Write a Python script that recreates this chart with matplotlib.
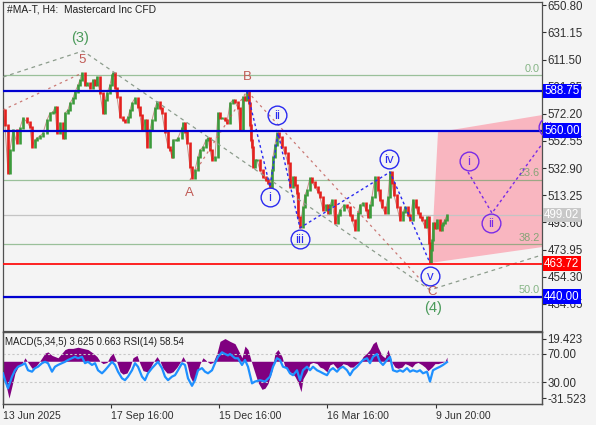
import matplotlib
matplotlib.use("Agg")
import matplotlib.pyplot as plt
from matplotlib.patches import Polygon

plt.rcParams['font.family'] = ['Liberation Sans', 'DejaVu Sans']

# ===================== data =====================
title = "#MA-T, H4:  Mastercard Inc CFD"
ind_title = "MACD(5,34,5) 3.625 0.663 RSI(14) 58.54"

# bar position (chart x) and close price
bar_x = [3, 5, 8, 10, 13, 17, 20, 23, 27, 30,
         32, 35, 37, 40, 43, 47, 50, 53, 55, 57,
         60, 63, 65, 68, 70, 73, 75, 78, 80, 82,
         85, 87, 90, 93, 95, 97, 100, 103, 105, 107,
         110, 112, 113, 115, 117, 120, 123, 125, 128, 130,
         132, 135, 138, 140, 142, 145, 147, 150, 152, 155,
         157, 160, 162, 165, 168, 170, 172, 173, 176, 178,
         182, 183, 185, 187, 190, 192, 195, 198, 200, 203,
         206, 208, 210, 212, 215, 218, 220, 222, 225, 227,
         230, 233, 235, 238, 240, 243, 245, 247, 249, 250,
         251, 252, 253, 255, 257, 260, 263, 266, 268, 270,
         272, 273, 275, 277, 279, 282, 285, 288, 290, 293,
         295, 297, 298, 300, 303, 305, 307, 310, 312, 315,
         318, 320, 323, 326, 328, 330, 332, 335, 338, 340,
         344, 347, 350, 352, 355, 358, 360, 363, 366, 368,
         370, 372, 375, 378, 380, 382, 385, 388, 390, 392,
         394, 397, 400, 403, 405, 408, 410, 413, 416, 418,
         420, 422, 425, 427, 429, 430, 431, 432, 433, 435,
         437, 440, 442, 443, 445, 447]
close = [575.0, 564.1, 529.4, 546.0, 560.5, 551.1, 562.0, 569.2, 566.3, 562.7,
         548.2, 553.3, 554.7, 556.2, 558.3, 567.7, 572.8, 573.5, 577.1, 558.3,
         565.6, 554.7, 572.8, 575.0, 580.0, 583.6, 588.0, 593.0, 596.7, 601.7,
         593.0, 594.5, 590.9, 596.7, 593.0, 598.8, 587.2, 572.8, 582.2, 587.2,
         593.0, 600.3, 601.7, 590.9, 584.4, 569.9, 567.7, 566.3, 569.9, 575.0,
         580.0, 583.6, 577.1, 571.3, 560.5, 567.7, 548.2, 560.5, 567.7, 576.4,
         580.7, 576.4, 572.8, 559.0, 548.2, 546.0, 541.0, 553.3, 553.3, 554.7,
         562.0, 565.6, 559.0, 551.1, 533.7, 525.8, 531.6, 541.0, 546.0, 548.2,
         553.3, 554.7, 546.0, 538.8, 541.0, 572.8, 569.2, 569.2, 567.7, 565.6,
         580.0, 582.2, 580.7, 576.4, 560.5, 584.4, 582.2, 588.7, 580.0, 564.1,
         553.3, 548.2, 533.7, 538.8, 538.8, 531.6, 526.5, 524.4, 522.2, 519.3,
         531.6, 541.0, 549.6, 558.3, 555.4, 548.2, 543.9, 536.6, 519.3, 526.5,
         520.7, 515.0, 497.6, 490.3, 504.8, 513.5, 517.1, 525.8, 522.9, 519.3,
         515.7, 512.1, 502.6, 506.2, 500.4, 506.2, 509.9, 493.2, 499.0, 502.6,
         506.2, 504.8, 499.0, 495.4, 488.1, 500.4, 506.2, 507.7, 502.6, 497.6,
         506.2, 512.1, 526.5, 517.1, 509.9, 504.8, 500.4, 512.1, 530.1, 522.2,
         513.5, 504.8, 495.4, 501.1, 504.8, 499.0, 495.4, 509.9, 504.8, 500.4,
         497.6, 495.4, 490.3, 497.6, 478.8, 465.0, 473.6, 480.9, 493.2, 489.6,
         495.4, 488.1, 491.8, 493.2, 495.4, 499.0]

price_ticks = [650.80, 631.15, 611.50, 591.85, 572.20, 552.55,
               532.90, 513.25, 493.60, 473.95, 454.30, 434.65]

blue_levels = [588.75, 560.00, 440.00]
red_level = 463.72
last_price = 499.02

fib_top = 600.0
fib_bottom = 280.0
fib_pcts = [0.0, 23.6, 38.2, 50.0]

# wave pivots (x, price)
primary_x = [3, 83, 430, 542]
primary_p = [598.8, 617.7, 444.8, 470.1]
inter_x = [3, 82]
inter_p = [575.0, 601.7]
abc_x = [190, 247, 430]
abc_p = [524.4, 588.7, 444.8]
minor_x = [247, 270, 278, 300, 390, 430]
minor_p = [588.7, 519.3, 558.3, 489.7, 530.1, 464.3]
fcst_x = [468, 492, 550]
fcst_p = [530.1, 500.4, 558.3]

zone_x = [431, 438, 542, 542]
zone_p = [464.4, 558.9, 571.3, 475.8]

date_pos = [3, 111, 219, 327, 436]
date_labels = ["13 Jun 2025", "17 Sep 16:00", "15 Dec 16:00", "16 Mar 16:00", "9 Jun 20:00"]

macd_x = [3, 7, 9, 12, 15, 18, 22, 25, 28, 32, 35, 38, 42, 45, 48, 52, 55, 58, 62, 65,
          68, 73, 78, 83, 88, 93, 97, 100, 103, 107, 110, 113, 117, 120, 123, 127, 130, 133, 137, 140,
          143, 147, 150, 153, 157, 160, 163, 167, 170, 173, 177, 180, 183, 187, 190, 193, 197, 200, 203, 207,
          210, 213, 217, 220, 225, 230, 235, 238, 242, 245, 248, 252, 255, 258, 262, 265, 268, 272, 275, 278,
          282, 285, 288, 292, 295, 298, 301, 303, 307, 310, 313, 317, 320, 323, 327, 330, 333, 337, 340, 343,
          347, 350, 353, 357, 360, 363, 367, 370, 373, 376, 378, 382, 385, 388, 392, 395, 398, 402, 405, 408,
          412, 415, 418, 422, 425, 428, 432, 435, 438, 442, 445, 447]
macd_v = [-10, -24, -31.5, -21, -10, -5, -2, 3, -1, -6, -5, -2, 3, 7, 8, 5, 4, 3, 7, 10,
          11, 11, 12, 11, 10, 7, 4, 0, -2, -1, 4, 7, -1, -9, -11, -10, -5, 3, 5, -2,
          -8, -9, -6, -1, 4, 0, -6, -10, -10, -9, -5, -1, 4, -2, -13, -18, -10, -2, 3, 0,
          -2, -1, 7, 17, 19.4, 17, 15, 10, 3, 13, 10, -2, -10, -18, -24, -23, -19, -8, 7, 10,
          4, -5, -8, -10, -13, -18, -26, -15, -9, -2, -1, -2, -5, -6, -9, -3, -2, -6, -5, -2,
          -3, -5, -5, -2, -1, 4, 7, 10, 15, 17, 12, 5, 3, 10, -1, -5, -6, -5, -2, -3,
          -5, -2, -1, -3, -5, -8, -5, -2, -2, -1, 0, 3.6]

rsi_x = [3, 5, 8, 12, 15, 18, 22, 25, 28, 32, 35, 38, 42, 45, 48, 52, 55, 58, 62, 65,
         68, 72, 75, 78, 82, 85, 88, 92, 95, 98, 102, 105, 108, 112, 115, 118, 122, 125, 128, 132,
         135, 138, 142, 145, 148, 152, 155, 158, 162, 165, 168, 172, 175, 178, 182, 185, 188, 192, 195, 198,
         202, 205, 208, 212, 215, 218, 222, 225, 228, 230, 235, 238, 242, 245, 248, 252, 255, 260, 265, 270,
         273, 277, 280, 283, 287, 290, 293, 297, 300, 303, 307, 310, 313, 317, 320, 323, 327, 330, 333, 337,
         340, 343, 347, 350, 353, 357, 360, 363, 367, 370, 373, 377, 380, 383, 387, 390, 393, 397, 400, 403,
         407, 410, 413, 417, 420, 423, 427, 430, 433, 437, 440, 443, 447]
rsi_v = [42.7, 33, 21.5, 38, 47, 52, 54.5, 57, 47, 45, 50, 52, 57, 59, 57, 45, 52, 54.5, 57, 59,
         61.5, 64, 66, 64, 66, 57, 59, 54.5, 57, 47, 42.7, 47, 52, 59, 54.5, 45, 35.6, 33, 38, 47,
         57, 52, 38, 33, 42.7, 50, 54.5, 59, 50, 38, 33, 38, 40, 47, 57, 54.5, 35.6, 25, 33, 47,
         50, 45, 42.7, 47, 57, 66, 72.4, 70, 68, 70, 64, 64, 54.5, 61.5, 52, 28.5, 31, 33, 31, 38,
         52, 64, 61.5, 52, 50, 42.7, 40, 47, 33, 47, 52, 47, 52, 47, 45, 42.7, 40, 47, 50, 45,
         50, 52, 47, 40, 47, 52, 57, 61.5, 64, 57, 66, 70, 59, 54.5, 61.5, 66, 47, 45, 47, 45,
         50, 45, 47, 45, 47, 42.7, 45, 31, 47, 50, 52, 54.5, 58.54]

# ===================== styling =====================
BG = '#f4f4f4'
AX = '#505050'
BULL = '#3c9a3c'
BEAR = '#e4211e'
BLUE = '#0000d0'
WAVE_BLUE = '#2a2af0'
PURPLE = '#7a2be6'
FIB = '#5e9e5e'
BROWN = '#c05a55'

fig = plt.figure(figsize=(5.96, 4.25), dpi=100, facecolor=BG)
ax = fig.add_axes([3 / 596, 94 / 425, 539 / 596, 329 / 425], facecolor=BG)
ax_ind = fig.add_axes([3 / 596, 21 / 425, 539 / 596, 72 / 425], facecolor=BG)

ax.set_xlim(3, 542)
ax.set_ylim(415.1, 653.1)

# ---- zone, fib levels, horizontal levels
ax.add_patch(Polygon(list(zip(zone_x, zone_p)), closed=True, fc='#f9b6c0', ec='none', zorder=1))

for pct in fib_pcts:
    lvl = fib_top - (fib_top - fib_bottom) * pct / 100
    ax.axhline(lvl, color=FIB, lw=0.9, alpha=0.6, zorder=2)
    ax.text(540, lvl + 1.2, f"{pct:.1f}", color=FIB, alpha=0.75, fontsize=7.8,
            ha='right', va='bottom', zorder=2)

ax.axhline(last_price, color='#c4c4c4', lw=0.9, zorder=2)

# ---- candles
ax.plot(bar_x, close, color='#a04030', lw=0.7, alpha=0.55, zorder=3)
for i in range(1, len(close)):
    o, c = close[i - 1], close[i]
    col = BULL if c >= o else BEAR
    ax.vlines(bar_x[i], min(o, c) - 0.8, max(o, c) + 0.8, color=col, lw=1.9, zorder=3)

# ---- wave lines
ax.plot(primary_x, primary_p, color='#8c9c8c', lw=0.9, ls=(0, (3, 3)), zorder=4)
ax.plot(inter_x, inter_p, color=BROWN, lw=0.9, ls=(0, (2, 3)), zorder=4, alpha=0.8)
ax.plot(abc_x, abc_p, color=BROWN, lw=0.9, ls=(0, (2, 3)), zorder=4, alpha=0.8)
ax.plot(minor_x, minor_p, color=WAVE_BLUE, lw=1.0, ls=(0, (2, 2)), zorder=4)
ax.plot(fcst_x, fcst_p, color=PURPLE, lw=1.0, ls=(0, (2, 2)), zorder=4)

for lvl in blue_levels:
    ax.axhline(lvl, color=BLUE, lw=1.6, zorder=5)
ax.axhline(red_level, color='#ff1010', lw=1.3, zorder=5)

# ---- wave labels
ax.text(80, 627.0, "(3)", color='#4a9a5a', fontsize=10.5, ha='center', va='center', zorder=6)
ax.text(433, 431.8, "(4)", color='#4a9a5a', fontsize=10.5, ha='center', va='center', zorder=6)
for lab, x, y in [("5", 82, 611.1), ("B", 247, 598.8), ("A", 189, 515.0), ("C", 432, 443.4)]:
    ax.text(x, y, lab, color=BROWN, fontsize=9.5, ha='center', va='center', zorder=6)


def circ(x, y, s, col):
    ax.plot([x], [y], marker='o', ms=13.5, mfc='none', mec=col, mew=1.0, zorder=7)
    ax.text(x, y - 0.6, s, color=col, fontsize=9.5, ha='center', va='center', zorder=7)


for lab, x, y in [("i", 270, 512.1), ("ii", 277, 571.3), ("iii", 300, 481.6),
                  ("iv", 389, 539.5), ("v", 430, 455.1)]:
    circ(x, y, lab, WAVE_BLUE)
for lab, x, y in [("i", 469, 538.1), ("ii", 491, 493.2), ("iii", 548, 562.7)]:
    circ(x, y, lab, PURPLE)

# ---- axes, ticks
ax.set_xticks([])
ax.yaxis.tick_right()
ax.set_yticks(price_ticks)
ax.set_yticklabels([f"{t:.2f}" for t in price_ticks])
ax.tick_params(axis='y', direction='out', length=3, width=0.8, pad=1,
               labelsize=8.3, colors='#303030')
for s in ax.spines.values():
    s.set_color(AX)
    s.set_linewidth(0.9)

trans = ax.get_yaxis_transform()
for lvl in blue_levels:
    ax.text(1.004, lvl, f"{lvl:.2f}", transform=trans, color='white', fontsize=8.3,
            ha='left', va='center', clip_on=False, zorder=8,
            bbox=dict(boxstyle='square,pad=0.12', fc='#0000ff', ec='none'))
ax.text(1.004, red_level, f"{red_level:.2f}", transform=trans, color='white', fontsize=8.3,
        ha='left', va='center', clip_on=False, zorder=8,
        bbox=dict(boxstyle='square,pad=0.12', fc='#ff0000', ec='none'))
ax.text(1.004, last_price, f"{last_price:.2f}", transform=trans, color='white', fontsize=8.3,
        ha='left', va='center', clip_on=False, zorder=8,
        bbox=dict(boxstyle='square,pad=0.12', fc='#c8c8c8', ec='none'))

fig.text(7 / 596, 1 - 10 / 425, title, fontsize=7.4, color='#202020', va='center', ha='left')

# ===================== indicator panel =====================
ax_ind.set_xlim(3, 542)
ax_ind.set_ylim(-36.5, 25.0)
ax_ind.fill_between(macd_x, 0, macd_v, color='#800080', lw=0, zorder=2)

ax_rsi = ax_ind.twinx()
ax_rsi.set_ylim(-0.7, 101.1)
ax_rsi.axhline(70, color='#c8c8c8', lw=0.8, ls=(0, (2, 2)), zorder=1)
ax_rsi.axhline(30, color='#c8c8c8', lw=0.8, ls=(0, (2, 2)), zorder=1)
ax_rsi.plot(rsi_x, rsi_v, color='#1e90ff', lw=1.6, zorder=3)
ax_rsi.set_yticks([70, 30])
ax_rsi.set_yticklabels(["70.00", "30.00"])

ax_ind.yaxis.tick_right()
ax_ind.set_yticks([19.423, -31.523])
ax_ind.set_yticklabels(["19.423", "-31.523"])

for a in (ax_ind, ax_rsi):
    a.tick_params(axis='y', direction='out', length=3, width=0.8, pad=1,
                  labelsize=8.3, colors='#303030')
    for s in a.spines.values():
        s.set_color(AX)
        s.set_linewidth(0.9)

ax_ind.set_xticks(date_pos)
ax_ind.set_xticklabels(date_labels, ha='left')
ax_ind.tick_params(axis='x', direction='out', length=3, width=0.8, pad=2,
                   labelsize=7.6, colors='#303030')
ax_rsi.text(0.004, 0.86, ind_title, transform=ax_ind.transAxes, fontsize=7.0,
            color='#202020', va='center', ha='left', zorder=6)

fig.savefig("out.png", dpi=100, facecolor=BG)
